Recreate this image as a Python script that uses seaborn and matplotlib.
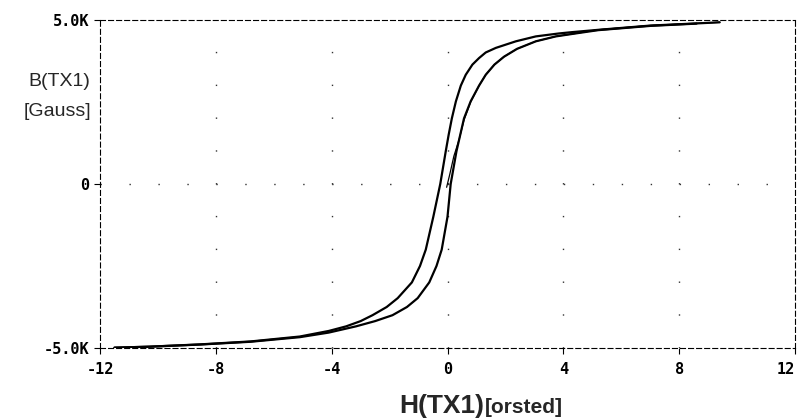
import seaborn as sns
import matplotlib.pyplot as plt
import pandas as pd

# B-H loop of TX1 (H in orsted, B in gauss)
# initial magnetisation curve (thin line from the origin)
h_init = [-0.03, 0.08, 0.22, 0.4, 0.57, 0.8, 1.09, 1.32, 1.62, 1.95, 2.4, 3.05,
          3.74, 4.5, 5.2, 7.0, 8.7, 9.4]
b_init = [-100, 300, 850, 1350, 1950, 2500, 3000, 3330, 3640, 3880, 4120, 4350,
          4500, 4600, 4700, 4830, 4900, 4930]

# descending branch (left side of the loop)
h_down = [9.4, 8.7, 7.0, 5.2, 4.3, 3.85, 3.05, 2.36, 1.67, 1.32, 1.09, 0.86, 0.63,
          0.46, 0.29, 0.15, 0.04, -0.06, -0.25, -0.49, -0.75, -0.95, -1.23, -1.72,
          -2.1, -2.59, -3.0, -3.5, -4.1, -5.1, -6.8, -8.55, -10.3, -11.5]
b_down = [4930, 4900, 4830, 4700, 4630, 4590, 4500, 4350, 4150, 4010, 3840, 3640,
          3330, 3000, 2520, 2000, 1500, 1000, 0, -1000, -2000, -2500, -3000, -3480,
          -3750, -4000, -4180, -4340, -4480, -4650, -4800, -4890, -4960, -4990]

# ascending branch (right side of the loop)
h_up = [-11.5, -10.3, -8.55, -6.8, -5.1, -4.1, -3.16, -2.5, -1.9, -1.4, -1.03,
        -0.63, -0.38, -0.2, 0.0, 0.11, 0.31, 0.57, 0.8, 1.09, 1.32, 1.62, 1.95,
        2.4, 3.05, 3.74, 4.5, 5.2, 7.0, 8.6]
b_up = [-4990, -4960, -4895, -4810, -4670, -4530, -4340, -4180, -4000, -3750, -3480,
        -3000, -2500, -2000, -1000, 0, 1000, 2000, 2520, 3000, 3330, 3640, 3880,
        4120, 4350, 4500, 4600, 4690, 4820, 4890]

x_ticks = [-12, -8, -4, 0, 4, 8, 12]
x_labels = ['-12', '-8', '-4', '0', '4', '8', '12']
y_ticks = [-5000, 0, 5000]
y_labels = ['-5.0K', '0', '5.0K']

sns.set_style('white')
plt.rcParams['axes.unicode_minus'] = False
plt.rcParams['lines.scale_dashes'] = False

fig = plt.figure(figsize=(7.97, 4.20), dpi=100)
ax = fig.add_axes([100 / 797, 1 - 348 / 420, 695 / 797, 328 / 420])

# dotted grid: a dot every unit along y=0, every 1K along the vertical lines
for xv in x_ticks[1:-1]:
    ax.axvline(xv, color='#333333', lw=1.0, ls=(0, (1.0, 22.62)), zorder=1)
ax.axhline(0, color='#333333', lw=1.0, ls=(0, (1.0, 19.85)), zorder=1)

init_df = pd.DataFrame({'H': h_init, 'B': b_init})
down_df = pd.DataFrame({'H': h_down, 'B': b_down})
up_df = pd.DataFrame({'H': h_up, 'B': b_up})

sns.lineplot(data=init_df, x='H', y='B', sort=False, estimator=None,
             color='black', lw=0.9, ax=ax)
sns.lineplot(data=down_df, x='H', y='B', sort=False, estimator=None,
             color='black', lw=1.6, ax=ax)
sns.lineplot(data=up_df, x='H', y='B', sort=False, estimator=None,
             color='black', lw=1.6, ax=ax)

ax.set_xlim(-12, 12)
ax.set_ylim(-5000, 5000)
ax.set_xticks(x_ticks)
ax.set_xticklabels(x_labels)
ax.set_yticks(y_ticks)
ax.set_yticklabels(y_labels)
ax.set_xlabel('')
ax.set_ylabel('')

for lab in ax.get_xticklabels() + ax.get_yticklabels():
    lab.set_fontfamily('DejaVu Sans Mono')
    lab.set_fontweight('bold')
    lab.set_fontsize(11)
# last x label sits flush with the right edge
ax.get_xticklabels()[-1].set_horizontalalignment('right')
ax.tick_params(axis='both', direction='out', length=4, width=0.8,
               color='black', labelcolor='black')
ax.tick_params(axis='x', bottom=True, pad=6)
ax.tick_params(axis='y', left=True, pad=4)

for sp in ax.spines.values():
    sp.set_visible(True)
    sp.set_color('black')
    sp.set_linewidth(0.8)
    sp.set_linestyle((0, (3.6, 2.2)))

# axis titles
fig.text(90 / 797, 1 - 82 / 420, 'B(TX1)', ha='right', va='center',
         fontsize=14, family='Liberation Sans')
fig.text(91 / 797, 1 - 112 / 420, '[Gauss]', ha='right', va='center',
         fontsize=14, family='Liberation Sans')
fig.text(484 / 797, 7 / 420, 'H(TX1)', ha='right', va='baseline',
         fontsize=19, fontweight='bold', family='Liberation Sans')
fig.text(485 / 797, 7 / 420, '[orsted]', ha='left', va='baseline',
         fontsize=15, fontweight='bold', family='Liberation Sans')

fig.savefig('out.png', dpi=100)
